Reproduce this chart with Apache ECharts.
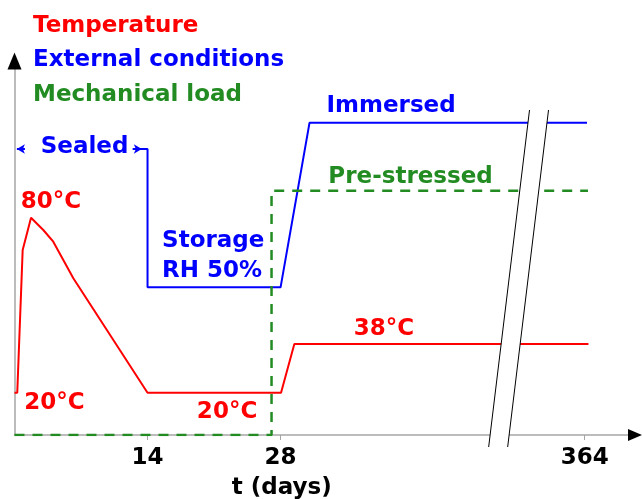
<!DOCTYPE html>
<html>
<head>
<meta charset="utf-8">
<title>Test history</title>
<script src="https://cdn.jsdelivr.net/npm/echarts@6/dist/echarts.min.js"></script>
<style>
  html, body { margin: 0; padding: 0; background: #fff; }
  #chart { width: 642px; height: 499px; }
</style>
</head>
<body>
<div id="chart"></div>
<script>
// x in days; the axis is broken after day 31, so 364 days sits at 60
// y is a plain level (no unit), 0 = time axis
const tempDays = [0, 0.29, 0.86, 1.74, 3.03, 4.08, 6.19, 14, 28.05, 29.45, 60.4]
const tempLevel = [42.3, 42.3, 185, 217.3, 205, 193.3, 156.7, 42.3, 42.3, 91, 91]
const condDays = [12.45, 14, 14, 28, 31.05, 60.25]
const condLevel = [286, 286, 147.7, 147.7, 312.3, 312.3]
const loadDays = [0, 27.05, 27.05, 60.35]
const loadLevel = [0, 0, 244.3, 244.3]
const tickDays = [14, 28, 60]
const tickLabels = ['14', '28', '364']
// axis break: x at top / bottom of the two slashes, and their levels
const breakTop = [54.2, 56.2]
const breakBottom = [49.9, 51.9]
const breakLevels = [325, -12]

const FONT = 'DejaVu Sans'
const RED = '#ff0000'
const BLUE = '#0000ff'
const GREEN = '#228b22'

const zip = (xs, ys) => xs.map((x, i) => [x, ys[i]])
const txt = (color) => ({
  show: true,
  position: 'inside',
  formatter: '{b}',
  color,
  fontFamily: FONT,
  fontWeight: 'bold',
  fontSize: 23
})

const chart = echarts.init(document.getElementById('chart'))

const hiddenAxis = {
  axisTick: { show: false },
  axisLabel: { show: false },
  splitLine: { show: false }
}

chart.setOption({
  animation: false,
  legend: {
    orient: 'vertical',
    left: 28,
    top: 14.5,
    padding: 0,
    itemWidth: 0,
    itemHeight: 23,
    itemGap: 11.5,
    icon: 'rect',
    selectedMode: false,
    textStyle: { fontFamily: FONT, fontWeight: 'bold', fontSize: 23 },
    data: [
      { name: 'Temperature', textStyle: { color: RED } },
      { name: 'External conditions', textStyle: { color: BLUE } },
      { name: 'Mechanical load', textStyle: { color: GREEN } }
    ]
  },
  grid: {
    left: 14.5, right: 7, top: 61, bottom: 64,
    containLabel: false,
    outerBoundsMode: 'none'
  },
  xAxis: [
    {
      type: 'value',
      min: 0,
      max: 65.3,
      name: 't (days)',
      nameLocation: 'middle',
      nameGap: 42,
      nameTextStyle: {
        color: '#000', fontFamily: FONT, fontWeight: 'bold', fontSize: 23,
        padding: [0, 86, 0, 0]
      },
      axisLine: { lineStyle: { color: '#a6a6a6', width: 1.5 } },
      axisTick: {
        show: true, length: 5, customValues: tickDays,
        lineStyle: { color: '#a6a6a6' }
      },
      axisLabel: {
        customValues: tickDays,
        margin: 12,
        color: '#000', fontFamily: FONT, fontWeight: 'bold', fontSize: 23,
        formatter: (v) => tickLabels[tickDays.indexOf(v)]
      },
      splitLine: { show: false }
    },
    {
      // black arrow head only
      type: 'value', min: 0, max: 65.3, position: 'bottom',
      axisLine: {
        show: true, symbol: ['none', 'triangle'], symbolSize: [12, 14],
        lineStyle: { color: '#000', opacity: 0 }
      },
      ...hiddenAxis
    }
  ],
  yAxis: [
    {
      type: 'value',
      min: 0,
      max: 374,
      axisLine: { show: true, lineStyle: { color: '#a6a6a6', width: 1.5 } },
      ...hiddenAxis
    },
    {
      type: 'value', min: 0, max: 374, position: 'left',
      axisLine: {
        show: true, symbol: ['none', 'triangle'], symbolSize: [14, 17],
        lineStyle: { color: '#000', opacity: 0 }
      },
      ...hiddenAxis
    }
  ],
  series: [
    {
      name: 'Temperature',
      type: 'line',
      symbol: 'none',
      color: RED,
      lineStyle: { width: 2 },
      data: zip(tempDays, tempLevel),
      markPoint: {
        symbolSize: 0,
        silent: true,
        label: txt(RED),
        data: [
          { name: '80°C', coord: [3.84, 232.5] },
          { name: '20°C', coord: [4.21, 31.5] },
          { name: '20°C', coord: [22.37, 22.5] },
          { name: '38°C', coord: [38.89, 105.5] }
        ]
      }
    },
    {
      name: 'External conditions',
      type: 'line',
      symbol: 'none',
      color: BLUE,
      lineStyle: { width: 2 },
      data: zip(condDays, condLevel),
      markLine: {
        silent: true,
        symbol: ['none', 'none'],
        symbolSize: [7, 8],
        label: { show: false },
        lineStyle: { color: BLUE, width: 2, type: 'solid' },
        data: [
          [{ coord: [0.25, 286], symbol: 'arrow' }, { coord: [1.1, 286], symbol: 'none' }],
          [{ coord: [12.45, 286], symbol: 'none' }, { coord: [13.4, 286], symbol: 'arrow' }]
        ]
      },
      markPoint: {
        symbolSize: 0,
        silent: true,
        label: txt(BLUE),
        data: [
          { name: 'Sealed', coord: [7.37, 287.5] },
          { name: 'Immersed', coord: [39.63, 329] },
          {
            name: 'Storage\nRH 50%',
            coord: [15.53, 179],
            label: { align: 'left', lineHeight: 30 }
          }
        ]
      }
    },
    {
      name: 'Mechanical load',
      type: 'line',
      symbol: 'none',
      color: GREEN,
      lineStyle: { width: 2.5, type: [10, 8] },
      data: zip(loadDays, loadLevel),
      markPoint: {
        symbolSize: 0,
        silent: true,
        label: txt(GREEN),
        data: [
          { name: 'Pre-stressed', coord: [41.68, 257.5] }
        ]
      }
    },
    {
      // axis break: white band between two slashes
      type: 'custom',
      silent: true,
      z: 10,
      clip: false,
      data: [[breakBottom[0], breakLevels[1]]],
      renderItem (params, api) {
        const t0 = api.coord([breakTop[0], breakLevels[0]])
        const t1 = api.coord([breakTop[1], breakLevels[0]])
        const b0 = api.coord([breakBottom[0], breakLevels[1]])
        const b1 = api.coord([breakBottom[1], breakLevels[1]])
        return {
          type: 'group',
          children: [
            { type: 'polygon', shape: { points: [t0, t1, b1, b0] }, style: { fill: '#fff' } },
            { type: 'line', shape: { x1: t0[0], y1: t0[1], x2: b0[0], y2: b0[1] }, style: { stroke: '#000', lineWidth: 1 } },
            { type: 'line', shape: { x1: t1[0], y1: t1[1], x2: b1[0], y2: b1[1] }, style: { stroke: '#000', lineWidth: 1 } }
          ]
        }
      }
    }
  ]
})
</script>
</body>
</html>
